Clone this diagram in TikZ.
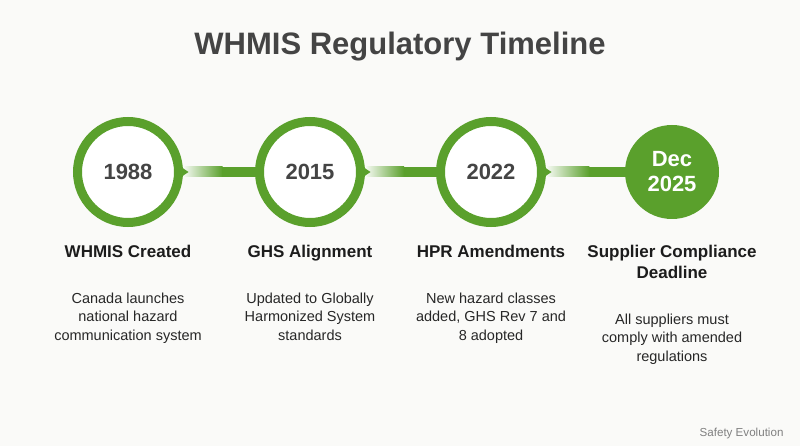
\documentclass[tikz,border=0pt]{standalone}
\usepackage{fontspec}
\setmainfont{Liberation Sans}
\usetikzlibrary{calc,positioning}

\definecolor{leaf}{HTML}{5AA02C}
\definecolor{paper}{HTML}{FAFAF8}
\definecolor{ink}{HTML}{444444}
\definecolor{deep}{HTML}{1C1C1C}

\tikzset{
  ring/.style={circle, draw=leaf, line width=9pt, fill=white, minimum size=101pt, inner sep=0pt,
    font=\bfseries\fontsize{22}{24}\selectfont, text=ink},
  goal/.style={circle, fill=leaf, minimum size=94pt, inner sep=0pt, align=center,
    font=\bfseries\fontsize{22}{25}\selectfont, text=white},
  evtitle/.style={anchor=north, inner sep=0pt, align=center, text depth=0pt,
    font=\bfseries\fontsize{17}{21}\selectfont, text=deep},
  evtext/.style={inner sep=0pt, align=center, below=35pt of #1,
    font=\fontsize{14.5}{18.5}\selectfont, text=deep!95},
}

\begin{document}
\begin{tikzpicture}[x=1pt,y=-1pt]
  \fill[paper] (0,0) rectangle (800,446);
  \useasboundingbox (0,0) rectangle (800,446);

  \node[font=\bfseries\fontsize{31}{36}\selectfont, text=ink] (head) at (400,47) {WHMIS Regulatory Timeline};

  % milestones
  \node[ring] (y1) at (128,172) {1988};
  \node[ring] (y2) at (310,172) {2015};
  \node[ring] (y3) at (491,172) {2022};
  \node[goal] (y4) at (672,172) {Dec\\2025};

  % links between milestones
  \foreach \a/\b in {y1/y2,y2/y3,y3/y4} {
    \shade[left color=leaf!4, right color=leaf] ($(\a.east)+(0,-5)$) rectangle ($(\a.east)!0.55!(\b.west)+(0,5)$);
    \fill[leaf] ($(\a.east)!0.55!(\b.west)+(-0.5,-5)$) rectangle ($(\b.west)+(3,5)$);
    \fill[leaf] ($(\a.east)+(-4,-6.5)$) -- ($(\a.east)+(5.5,0)$) -- ($(\a.east)+(-4,6.5)$) -- cycle;
  }

  % labels
  \node[evtitle] (t1) at (128,245) {WHMIS Created};
  \node[evtitle] (t2) at (310,245) {GHS Alignment};
  \node[evtitle] (t3) at (491,245) {HPR Amendments};
  \node[evtitle] (t4) at (672,245) {Supplier Compliance\\Deadline};

  \node[evtext=t1] (d1) {Canada launches\\national hazard\\communication system};
  \node[evtext=t2] (d2) {Updated to Globally\\Harmonized System\\standards};
  \node[evtext=t3] (d3) {New hazard classes\\added, GHS Rev 7 and\\8 adopted};
  \node[evtext=t4] (d4) {All suppliers must\\comply with amended\\regulations};

  \node[anchor=east, font=\fontsize{11.6}{14}\selectfont, text=black!50] (credit) at (787,433) {Safety Evolution};
\end{tikzpicture}
\end{document}
